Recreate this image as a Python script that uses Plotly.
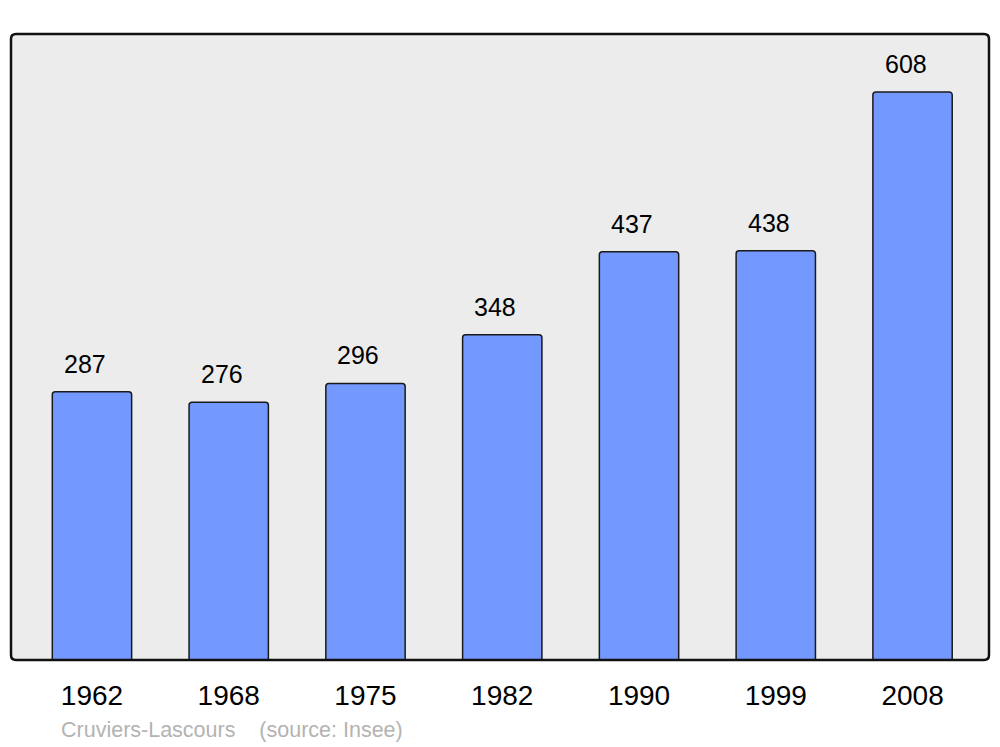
import plotly.graph_objects as go

years = ["1962", "1968", "1975", "1982", "1990", "1999", "2008"]
population = [287, 276, 296, 348, 437, 438, 608]
town = "Cruviers-Lascours"
source = "(source: Insee)"

fig = go.Figure()
fig.add_trace(go.Bar(
    x=years, y=population, width=0.58,
    marker=dict(color="#7399ff", line=dict(color="#1a1a1a", width=1.5), cornerradius=3),
    hoverinfo="skip",
))

for i, v in enumerate(population):
    fig.add_annotation(x=i, y=v, text=str(v), showarrow=False, yanchor="bottom",
                       yshift=12, xshift=-7,
                       font=dict(family="Liberation Sans, Arial", size=25, color="#000"))

fig.add_annotation(xref="paper", yref="paper", x=(59 - 11) / 978, y=(660 - 730) / 626,
                   xanchor="left", yanchor="middle", showarrow=False,
                   text=town + "\u00a0\u00a0\u00a0\u00a0" + source,
                   font=dict(family="Liberation Sans, Arial", size=21.5, color="#b3b3b3"))

# rounded frame around plot area
rx, ry = 5 / 978, 5 / 626
path = (f"M {rx},0 L {1-rx},0 Q 1,0 1,{ry} L 1,{1-ry} Q 1,1 {1-rx},1 "
        f"L {rx},1 Q 0,1 0,{1-ry} L 0,{ry} Q 0,0 {rx},0 Z")
fig.add_shape(type="path", xref="paper", yref="paper", path=path,
              line=dict(color="#111111", width=2.5), layer="above")

fig.update_layout(
    width=1000, height=747,
    margin=dict(l=11, r=11, t=34, b=87),
    paper_bgcolor="white", plot_bgcolor="#ececec",
    showlegend=False,
    xaxis=dict(type="category", range=[-0.592, 6.559], showgrid=False, zeroline=False,
               showline=False, ticks="outside", ticklen=10, tickcolor="rgba(0,0,0,0)",
               tickfont=dict(family="Liberation Sans, Arial", size=28, color="#000")),
    yaxis=dict(range=[0, 670], showgrid=False, zeroline=False, showticklabels=False,
               showline=False),
)

fig.write_html("out.html", config={"displayModeBar": False},
               post_script="document.body.style.margin='0';document.body.style.overflow='hidden';")
